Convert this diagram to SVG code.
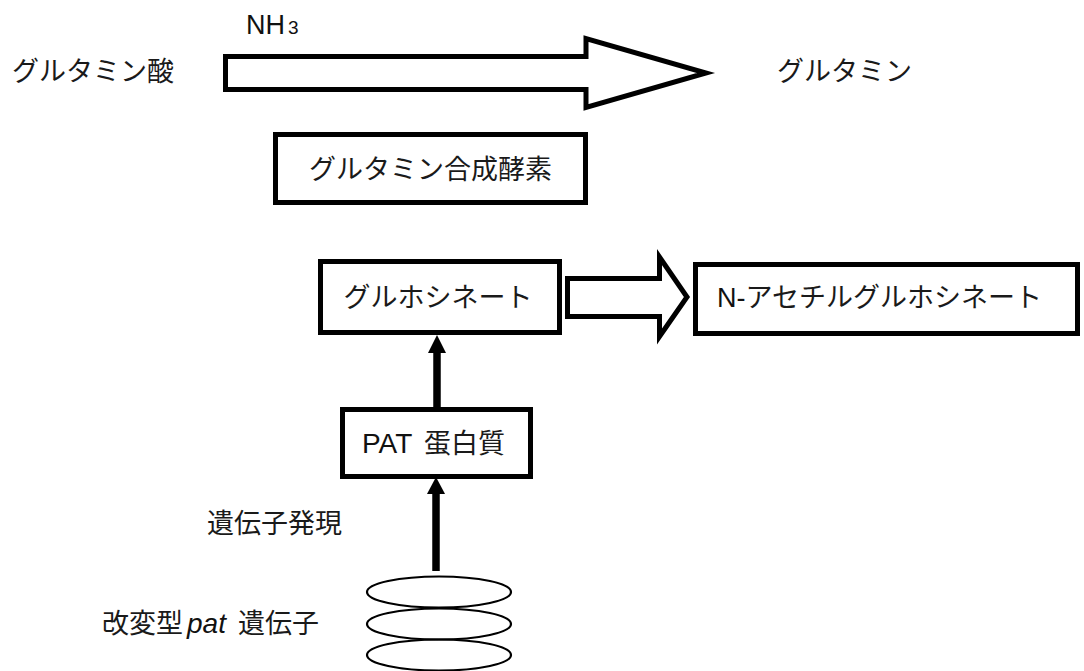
<svg xmlns="http://www.w3.org/2000/svg" width="1084" height="671" viewBox="0 0 1084 671">
<style>
.jp{font-family:"Noto Sans CJK JP","Noto Sans CJK SC",sans-serif;font-size:27px;fill:#1a1a1a}
.lat{font-family:"Liberation Sans",Arial,sans-serif;fill:#111}
.box{fill:#fff;stroke:#000;stroke-width:5}
.fat{fill:#fff;stroke:#000;stroke-width:5;stroke-linejoin:miter;stroke-miterlimit:12}
.shaft{stroke:#000;stroke-width:7.5;fill:none}
.head{fill:#000}
.coil{fill:none;stroke:#000;stroke-width:2.2}
</style>
<rect width="1084" height="671" fill="#fff"/>
<g id="connectors">
  <g id="arrow-glutamate">
    <polygon class="fat" points="225.5,56.5 586,56.5 586,38.5 706,73 586,107.5 586,89.5 225.5,89.5"/>
    <text class="lat" x="246" y="34" font-size="27">NH<tspan font-size="19" dx="3">3</tspan></text>
  </g>
  <g id="arrow-acetyl">
    <polygon class="fat" points="567.5,278.5 659.5,278.5 659.5,257 687,297 659.5,336.5 659.5,316.5 567.5,316.5"/>
  </g>
  <g id="arrow-pat-glu">
    <line class="shaft" x1="437" y1="407" x2="437" y2="350"/>
    <polygon class="head" points="437,335 446,353 428,353"/>
  </g>
  <g id="arrow-gene-pat">
    <line class="shaft" x1="436" y1="571" x2="436" y2="491"/>
    <polygon class="head" points="436,477 445,494 427,494"/>
  </g>
</g>
<g id="glutamate">
  <text class="jp" x="12" y="81">グルタミン酸</text>
</g>
<g id="glutamine">
  <text class="jp" x="777" y="81">グルタミン</text>
</g>
<g id="synthetase">
  <rect class="box" x="275.5" y="134.5" width="310" height="68"/>
  <text class="jp" x="430.5" y="179" font-size="30" text-anchor="middle">グルタミン合成酵素</text>
</g>
<g id="glufosinate">
  <rect class="box" x="320.5" y="261.5" width="239" height="71"/>
  <text class="jp" x="438" y="307" text-anchor="middle">グルホシネート</text>
</g>
<g id="acetylglufosinate">
  <rect class="box" x="695.5" y="264.5" width="382" height="69"/>
  <text class="jp" x="717" y="307"><tspan class="lat" font-size="27">N-</tspan>アセチルグルホシネート</text>
</g>
<g id="pat-protein">
  <rect class="box" x="342.5" y="409.5" width="188" height="67" stroke-width="4.5"/>
  <text class="lat" x="362" y="453" font-size="28">PAT</text>
  <text class="jp" x="424" y="453">蛋白質</text>
</g>
<g id="expression-label">
  <text class="jp" x="207" y="533">遺伝子発現</text>
</g>
<g id="pat-gene">
  <ellipse class="coil" cx="439" cy="655" rx="72" ry="15.5"/>
  <ellipse class="coil" cx="439" cy="624" rx="72" ry="15.5"/>
  <ellipse class="coil" cx="439" cy="592" rx="72" ry="15.5"/>
  <text class="jp" x="102" y="633">改変型</text>
  <text class="lat" x="187" y="633" font-size="28" font-style="italic">pat</text>
  <text class="jp" x="238" y="633">遺伝子</text>
</g>
</svg>
